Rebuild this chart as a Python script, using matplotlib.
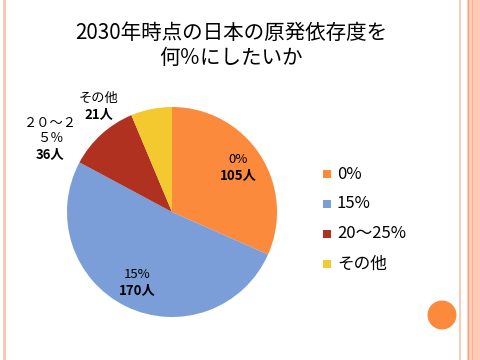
import matplotlib
matplotlib.use('Agg')
import matplotlib.pyplot as plt
from matplotlib.patches import Rectangle, Ellipse

plt.rcParams['font.family'] = ['Noto Sans CJK JP', 'DejaVu Sans']

# data
categories = ['0%', '15%', '20～25%', 'その他']
counts = [105, 170, 36, 21]
colors = ['#FB8A3C', '#7B9ED8', '#B0311F', '#F4C92F']
pct_labels = ['0%', '15%', '２０～２\n５％', 'その他']
cnt_labels = ['105人', '170人', '36人', '21人']
# label positions in pie units (radius = 1)
label_pos = [(0.63, 0.44), (-0.33, -0.66), (-1.16, 0.64), (-0.70, 1.02)]

W, H = 480, 360
fig = plt.figure(figsize=(4.8, 3.6), dpi=100)
fig.patch.set_facecolor('white')

# slide decoration
def px_rect(x, y, w, h, c):
    fig.add_artist(Rectangle((x / W, 1 - (y + h) / H), w / W, h / H,
                             transform=fig.transFigure, color=c, lw=0, zorder=0))

px_rect(3, 0, 2.5, H, '#FBC7B2')
px_rect(459, 0, 2, H, '#F8CDBB')
px_rect(467, 0, 13, H, '#FFCBB6')
px_rect(468, 0, 1.2, H, '#F2A07D')
px_rect(471.5, 0, 1.2, H, '#F6B396')
fig.add_artist(Ellipse((442 / W, 1 - 315 / H), 29 / W, 29 / H,
                       transform=fig.transFigure, color='#FB8A3C', lw=0))

# title
fig.text(231 / W, 1 - 33 / H, '2030年時点の日本の原発依存度を', ha='center', va='center',
         fontsize=14.8)
fig.text(231 / W, 1 - 58 / H, '何％にしたいか', ha='center', va='center', fontsize=14.8)

# pie
cx, cy, r = 172, 212, 105
ax = fig.add_axes([(cx - r) / W, 1 - (cy + r) / H, 2 * r / W, 2 * r / H])
ax.pie(counts, colors=colors, startangle=90, counterclock=False, radius=1,
       wedgeprops=dict(linewidth=0))
ax.set_xlim(-1, 1)
ax.set_ylim(-1, 1)
ax.set_aspect('auto')
ax.axis('off')

for (x, y), p, c in zip(label_pos, pct_labels, cnt_labels):
    ax.text(x, y, p, ha='center', va='bottom', fontsize=9.5, linespacing=1.2)
    ax.text(x, y - 0.02, c, ha='center', va='top', fontsize=9.5, fontweight='bold')

# legend
lx = 327
for i, (cat, col) in enumerate(zip(categories, colors)):
    y = 174 + 30 * i
    px_rect(lx - 4, y - 4, 8, 8, col)
    fig.text((lx + 10) / W, 1 - y / H, cat, ha='left', va='center', fontsize=12)

fig.savefig('out.png', dpi=100)
